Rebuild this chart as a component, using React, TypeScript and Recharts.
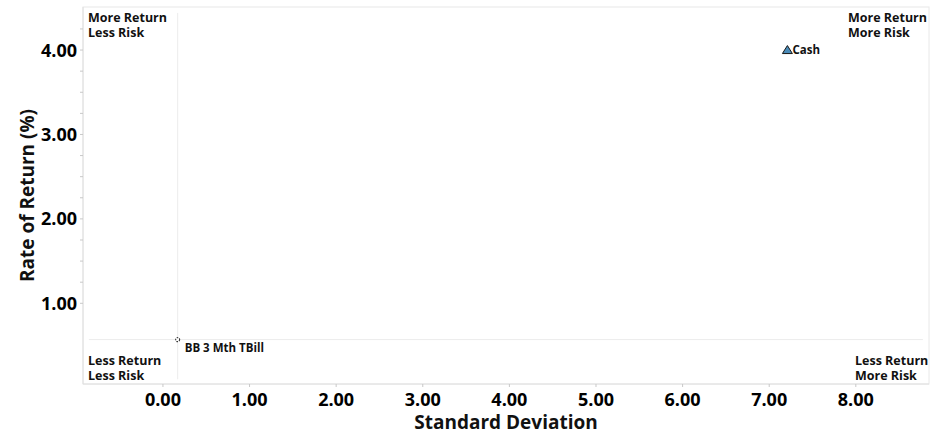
import React from 'react';
import { ScatterChart, Scatter, XAxis, YAxis, ReferenceLine, Customized } from 'recharts';

const names = ['BB 3 Mth TBill', 'Cash'];
const stdDev = [0.17, 7.21];
const returns = [0.57, 4.0];
const xTicks = [0, 1, 2, 3, 4, 5, 6, 7, 8];
const yTicks = [1, 1.25, 1.5, 1.75, 2, 2.25, 2.5, 2.75, 3, 3.25, 3.5, 3.75, 4, 4.25];
const xDomain = [-0.923, 8.845];
const yDomain = [0.044, 4.51];
const quadrantLabels = [
  ['More Return', 'Less Risk'],
  ['More Return', 'More Risk'],
  ['Less Return', 'Less Risk'],
  ['Less Return', 'More Risk'],
];

const FONT = '"Open Sans", "Noto Sans", sans-serif';

const tbillData = [{ x: stdDev[0], y: returns[0], name: names[0] }];
const cashData = [{ x: stdDev[1], y: returns[1], name: names[1] }];

const XTick = (props: any) => {
  const { x, y, payload } = props;
  return (
    <g>
      <line x1={x} x2={x} y1={y - 8} y2={y - 5} stroke="#c8c8c8" />
      <text x={x} y={y + 14} textAnchor="middle" fontFamily={FONT} fontWeight="bold" fontSize={18} fill="#000">
        {payload.value.toFixed(2)}
      </text>
    </g>
  );
};

const YTick = (props: any) => {
  const { x, y, payload } = props;
  const major = Math.abs(payload.value - Math.round(payload.value)) < 1e-6;
  return (
    <g>
      <line x1={x + 5} x2={x + 8} y1={y} y2={y} stroke="#c8c8c8" />
      {major && (
        <text x={x + 2} y={y + 6.5} textAnchor="end" fontFamily={FONT} fontWeight="bold" fontSize={18} fill="#000">
          {payload.value.toFixed(2)}
        </text>
      )}
    </g>
  );
};

const CircleShape = (props: any) => {
  const { cx, cy, payload } = props;
  return (
    <g>
      <circle cx={cx} cy={cy} r={2} fill="#fff" stroke="#333" strokeWidth={1.1} strokeDasharray="1.5 1" />
      <text x={cx + 7} y={cy + 12} fontFamily={FONT} fontWeight="bold" fontSize={11.5} fill="#111">
        {payload.name}
      </text>
    </g>
  );
};

const TriangleShape = (props: any) => {
  const { cx, cy, payload } = props;
  return (
    <g>
      <path
        d={`M${cx},${cy - 4.5} L${cx + 5},${cy + 3.5} L${cx - 5},${cy + 3.5} Z`}
        fill="#4a8bb8"
        stroke="#1a1a1a"
        strokeWidth={1}
      />
      <text x={cx + 5} y={cy + 3.5} fontFamily={FONT} fontWeight="bold" fontSize={11.5} fill="#111">
        {payload.name}
      </text>
    </g>
  );
};

const Quadrants = () => {
  const pos = [
    [88, 22],
    [848, 22],
    [88, 365],
    [855, 365],
  ];
  return (
    <g>
      {quadrantLabels.map((lines, i) => (
        <g key={i}>
          <text x={pos[i][0]} y={pos[i][1]} fontFamily={FONT} fontWeight="bold" fontSize={12.5} fill="#111">
            {lines[0]}
          </text>
          <text x={pos[i][0]} y={pos[i][1] + 15} fontFamily={FONT} fontWeight="bold" fontSize={12.5} fill="#111">
            {lines[1]}
          </text>
        </g>
      ))}
    </g>
  );
};

export default function App() {
  return (
    <div style={{ position: 'absolute', left: 0, top: 0, width: 946, height: 435, background: '#fff' }}>
      <ScatterChart width={946} height={435} margin={{ top: 7, right: 17, bottom: 0, left: 0 }}>
        <rect x={83} y={7} width={846} height={377} fill="none" stroke="#e8e8e8" />
        <XAxis
          type="number"
          dataKey="x"
          domain={xDomain}
          ticks={xTicks}
          allowDataOverflow
          height={51}
          axisLine={{ stroke: '#e0e0e0' }}
          tickLine={false}
          tick={<XTick />}
          interval={0}
          label={{
            value: 'Standard Deviation',
            position: 'insideBottom',
            offset: 6,
            style: { fontFamily: FONT, fontWeight: 'bold', fontSize: 19, fill: '#111' },
          }}
        />
        <YAxis
          type="number"
          dataKey="y"
          domain={yDomain}
          ticks={yTicks}
          allowDataOverflow
          width={83}
          axisLine={{ stroke: '#e0e0e0' }}
          tickLine={false}
          tick={<YTick />}
          interval={0}
          label={{
            value: 'Rate of Return (%)',
            angle: -90,
            position: 'insideLeft',
            offset: 27,
            style: { fontFamily: FONT, fontWeight: 'bold', fontSize: 19, fill: '#111', textAnchor: 'middle' },
          }}
        />
        <ReferenceLine
          segment={[{ x: stdDev[0], y: 0.1 }, { x: stdDev[0], y: 4.44 }]}
          stroke="#ececec"
          strokeWidth={1}
        />
        <ReferenceLine
          segment={[{ x: -0.855, y: returns[0] }, { x: 8.775, y: returns[0] }]}
          stroke="#ececec"
          strokeWidth={1}
        />
        <Scatter data={tbillData} shape={<CircleShape />} isAnimationActive={false} />
        <Scatter data={cashData} shape={<TriangleShape />} isAnimationActive={false} />
        <Customized component={<Quadrants />} />
      </ScatterChart>
    </div>
  );
}
